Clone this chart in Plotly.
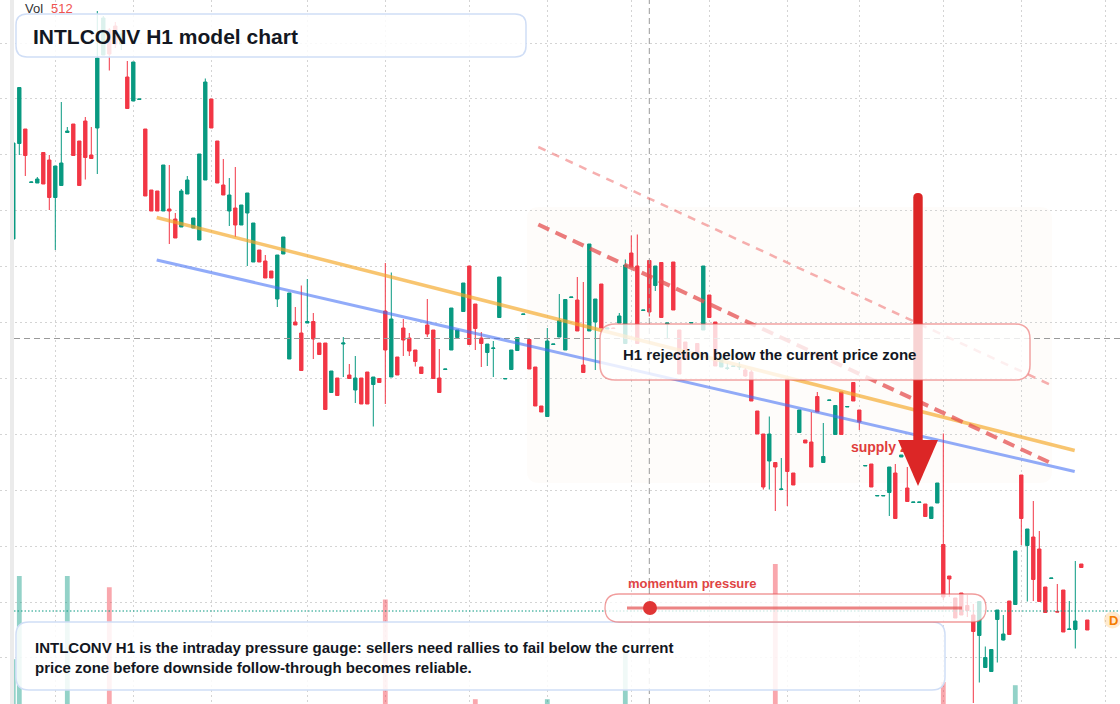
import plotly.graph_objects as go

W, H = 1120, 704

# ---------------- data ----------------
bar_index = list(range(180))

open_ = [
    101.66, 103.57, 103.86, 102.79, 102.78, 103.39, 103.24, 102.49, 102.73, 103.79,
    103.96, 103.62, 104.02, 103.34, 103.88, 105.34, 105.84, 105.92, 105.56, 104.90,
    104.42, 104.45, 103.86, 102.64, 102.62, 102.22, 102.26, 102.06, 101.90, 102.56,
    101.88, 101.64, 102.84, 104.46, 103.62, 102.74, 102.22, 102.28, 101.94, 102.18,
    101.20, 101.44, 101.22, 101.02, 100.46, 101.36, 99.26, 100.00, 99.78, 99.98,
    100.01, 99.58, 99.58, 98.59, 98.88, 99.56, 98.94, 98.64, 98.88, 99.00,
    98.75, 98.87, 100.22, 98.90, 99.30, 99.88, 99.68, 99.44, 99.10, 99.94,
    99.84, 98.88, 99.05, 99.44, 99.69, 100.21, 101.12, 100.36, 99.68, 99.39,
    99.47, 100.09, 98.86, 99.05, 99.43, 100.15, 99.65, 99.10, 98.32, 98.11,
    99.55, 99.70, 99.44, 100.49, 100.44, 99.14, 99.82, 100.00, 100.76, 99.86,
    99.88, 99.98, 99.57, 101.38, 101.12, 100.23, 101.23, 100.73, 101.19, 99.96,
    101.20, 99.84, 99.60, 99.98, 99.57, 99.84, 100.54, 100.00, 99.10, 99.07,
    99.11, 99.10, 99.04, 99.00, 98.22, 97.76, 97.22, 97.19, 96.65, 98.86,
    96.98, 97.79, 97.64, 97.60, 98.51, 97.19, 98.43, 97.75, 98.60, 98.30,
    98.79, 98.24, 97.12, 97.16, 96.52, 96.52, 96.59, 96.98, 97.30, 96.68,
    96.39, 96.39, 96.36, 96.07, 96.38, 95.55, 94.92, 94.48, 94.58, 94.33,
    94.14, 93.73, 93.09, 93.01, 94.05, 93.64, 94.42, 94.35, 96.94, 95.53,
    95.70, 95.46, 94.70, 94.87, 94.21, 94.64, 93.85, 93.85, 95.16, 94.04,
]
high = [
    103.58, 104.69, 103.86, 102.81, 102.90, 103.40, 103.34, 103.12, 104.40, 103.90,
    103.96, 103.62, 104.10, 103.90, 106.22, 106.12, 105.88, 106.00, 105.84, 105.22,
    105.20, 104.46, 103.86, 102.64, 102.62, 103.14, 103.14, 102.18, 102.66, 102.92,
    102.08, 103.36, 104.87, 104.46, 103.62, 103.26, 102.88, 103.10, 102.34, 102.58,
    101.98, 101.44, 101.34, 101.02, 101.34, 101.70, 100.58, 100.30, 100.73, 100.86,
    100.18, 99.58, 99.58, 99.02, 98.88, 99.70, 99.16, 99.32, 98.88, 99.00,
    98.90, 98.87, 101.18, 100.99, 99.30, 100.06, 99.78, 99.44, 99.10, 100.46,
    99.84, 99.46, 99.06, 100.28, 99.84, 100.78, 101.12, 100.36, 99.80, 99.56,
    99.62, 100.90, 98.87, 99.44, 99.69, 100.16, 99.65, 99.10, 98.32, 99.88,
    99.56, 100.56, 100.45, 100.50, 100.90, 100.80, 101.56, 100.46, 100.76, 99.88,
    99.89, 100.18, 101.25, 101.73, 101.75, 100.24, 101.23, 101.12, 101.19, 99.98,
    101.20, 99.84, 99.60, 99.99, 99.57, 101.12, 100.54, 100.00, 99.30, 99.18,
    99.12, 99.20, 99.08, 99.04, 98.22, 97.76, 98.11, 97.19, 97.28, 98.86,
    96.98, 98.24, 97.64, 98.20, 98.60, 97.98, 98.44, 98.33, 98.60, 98.31,
    98.79, 98.24, 97.13, 97.16, 96.53, 96.53, 97.10, 97.16, 97.34, 97.10,
    96.40, 96.40, 96.36, 96.30, 96.78, 97.77, 94.92, 94.48, 94.58, 94.54,
    94.36, 94.41, 93.51, 93.45, 94.24, 94.14, 94.42, 95.42, 96.94, 95.86,
    96.42, 95.82, 94.70, 94.88, 94.76, 94.64, 94.42, 95.22, 95.16, 94.04,
]
low = [
    101.66, 103.34, 102.92, 102.78, 102.78, 102.76, 102.24, 101.44, 102.73, 103.79,
    103.33, 102.73, 102.85, 103.27, 102.96, 105.34, 105.03, 105.48, 105.44, 104.27,
    104.42, 104.45, 102.52, 102.22, 102.22, 102.22, 101.56, 101.68, 101.90, 102.56,
    101.88, 101.64, 102.84, 103.88, 102.78, 102.54, 101.92, 101.70, 101.94, 101.12,
    101.20, 101.20, 100.88, 100.88, 100.30, 101.36, 99.26, 99.94, 99.03, 99.98,
    99.26, 99.35, 98.25, 98.59, 98.53, 98.90, 98.87, 98.38, 98.36, 98.36,
    97.91, 98.79, 98.36, 98.90, 98.94, 99.32, 99.32, 99.11, 98.97, 99.70,
    98.87, 98.59, 99.05, 99.44, 99.69, 100.21, 99.55, 99.44, 99.10, 99.12,
    98.90, 100.09, 98.86, 99.05, 99.43, 100.15, 99.06, 98.32, 98.20, 98.11,
    99.55, 99.70, 99.44, 100.49, 99.82, 98.99, 99.82, 99.04, 99.88, 99.86,
    99.86, 99.98, 99.57, 101.10, 99.57, 100.23, 100.11, 100.62, 100.09, 99.66,
    100.24, 98.96, 99.26, 99.98, 99.35, 99.84, 100.09, 99.12, 99.10, 99.04,
    99.11, 99.04, 98.90, 98.42, 97.76, 96.65, 96.65, 96.22, 96.65, 96.32,
    96.74, 97.79, 97.58, 97.10, 98.20, 97.19, 98.43, 97.75, 97.75, 98.30,
    98.42, 97.84, 97.12, 96.70, 96.52, 96.52, 96.12, 96.07, 97.30, 96.41,
    96.39, 96.39, 96.11, 96.07, 96.38, 94.44, 94.50, 94.08, 94.14, 94.10,
    92.38, 92.79, 93.09, 93.01, 93.19, 93.63, 93.75, 94.35, 95.54, 94.41,
    94.42, 94.41, 94.19, 94.87, 94.20, 93.80, 93.85, 93.47, 95.09, 93.84,
]
close = [
    103.58, 104.69, 103.33, 102.80, 102.86, 102.76, 102.49, 103.12, 103.18, 103.82,
    103.33, 102.73, 103.29, 103.27, 105.28, 106.08, 105.36, 105.56, 105.76, 104.27,
    105.20, 104.46, 102.52, 102.22, 102.22, 103.14, 102.22, 101.68, 102.62, 102.84,
    102.08, 103.36, 104.80, 103.88, 102.78, 102.54, 102.54, 101.94, 102.34, 102.58,
    101.98, 101.20, 100.88, 100.88, 101.34, 101.70, 100.58, 99.94, 99.03, 100.01,
    99.66, 99.35, 98.25, 99.02, 98.53, 99.58, 98.87, 98.88, 98.36, 98.36,
    98.90, 98.79, 99.44, 100.06, 98.94, 99.64, 99.42, 99.21, 98.97, 99.76,
    98.87, 98.59, 99.06, 100.28, 99.84, 100.78, 99.55, 99.87, 99.57, 99.56,
    99.48, 100.90, 98.87, 99.44, 99.69, 100.16, 99.06, 98.32, 98.20, 99.62,
    99.56, 100.03, 100.45, 100.50, 99.82, 98.99, 101.56, 100.46, 99.88, 99.88,
    99.87, 100.12, 101.14, 101.10, 99.57, 100.24, 100.20, 101.12, 100.09, 99.98,
    100.24, 98.96, 99.26, 99.99, 99.35, 101.12, 100.09, 99.12, 99.30, 99.08,
    99.12, 99.11, 98.92, 98.42, 97.76, 96.70, 97.76, 97.10, 96.66, 97.01,
    96.74, 98.24, 97.58, 97.10, 98.20, 97.31, 98.44, 98.33, 97.75, 98.31,
    98.42, 98.00, 97.13, 96.70, 96.53, 96.53, 97.10, 96.07, 97.34, 96.41,
    96.40, 96.40, 96.11, 96.30, 96.78, 94.50, 94.86, 94.08, 94.14, 94.23,
    93.81, 94.41, 93.29, 93.45, 94.24, 93.76, 93.75, 95.42, 96.07, 95.86,
    94.85, 94.41, 94.19, 94.88, 94.20, 93.80, 93.86, 94.02, 95.09, 93.84,
]
volume = [
    302, 510, 120, 85, 64, 140, 152, 176, 168, 510,
    132, 150, 118, 96, 178, 160, 482, 110, 92, 140,
    126, 58, 170, 104, 88, 142, 120, 98, 134, 112,
    76, 166, 172, 150, 128, 102, 114, 124, 90, 146,
    118, 84, 106, 72, 130, 96, 168, 80, 144, 100,
    122, 86, 158, 108, 94, 112, 70, 116, 128, 134,
    120, 62, 451, 164, 98, 106, 92, 84, 74, 110,
    136, 104, 56, 148, 80, 132, 156, 202, 112, 96,
    118, 150, 52, 114, 100, 66, 126, 146, 88, 202,
    60, 122, 154, 58, 138, 124, 174, 130, 140, 70,
    64, 90, 320, 142, 166, 68, 150, 108, 152, 74,
    148, 138, 104, 62, 94, 160, 120, 136, 96, 72,
    66, 70, 88, 130, 126, 170, 158, 540, 84, 180,
    110, 124, 78, 134, 116, 120, 60, 128, 140, 64,
    118, 106, 66, 132, 58, 56, 146, 158, 70, 124,
    62, 60, 110, 108, 142, 245, 98, 122, 116, 86,
    176, 160, 92, 118, 112, 84, 138, 237, 178, 150,
    164, 138, 112, 60, 82, 130, 76, 140, 58, 90,
]
session_bars = [7, 20, 33, 49, 62, 76, 89, 103, 116, 129, 141, 155, 168, 182]
last_price = 94.22
crosshair_bar = 106
crosshair_price = 99.67
trend_orange = [(23.9, 102.09), (176.9, 97.43)]
trend_blue = [(23.9, 101.24), (176.9, 97.01)]
channel_red = [(87.5, 101.95), (173.1, 97.17)]
channel_red_upper = [(87.5, 103.50), (173.1, 98.73)]
vol_label = "512"

GREEN = "#089981"
RED = "#F23645"
FONT = "Liberation Sans, Arial, sans-serif"

# --------------- helpers (pixel -> paper) ---------------
def PX(x):
    return x / W

def PY(y):
    return 1 - y / H

def rrect(x0, y0, x1, y1, r):
    pts = [
        f"M{PX(x0 + r)},{PY(y0)}",
        f"L{PX(x1 - r)},{PY(y0)}",
        f"Q{PX(x1)},{PY(y0)} {PX(x1)},{PY(y0 + r)}",
        f"L{PX(x1)},{PY(y1 - r)}",
        f"Q{PX(x1)},{PY(y1)} {PX(x1 - r)},{PY(y1)}",
        f"L{PX(x0 + r)},{PY(y1)}",
        f"Q{PX(x0)},{PY(y1)} {PX(x0)},{PY(y1 - r)}",
        f"L{PX(x0)},{PY(y0 + r)}",
        f"Q{PX(x0)},{PY(y0)} {PX(x0 + r)},{PY(y0)}",
        "Z",
    ]
    return " ".join(pts)

# --------------- traces ---------------
vol_colors = [
    "rgba(8,153,129,0.44)" if c >= o else "rgba(242,54,69,0.44)"
    for o, c in zip(open_, close)
]

fig = go.Figure()
fig.add_trace(go.Candlestick(
    x=bar_index, open=open_, high=high, low=low, close=close,
    increasing=dict(line=dict(color=GREEN, width=1), fillcolor=GREEN),
    decreasing=dict(line=dict(color=RED, width=1), fillcolor=RED),
    hoverinfo="skip", showlegend=False,
))
fig.add_trace(go.Scatter(
    x=[139.6], y=[97.48], mode="text", text=["<b>supply zone</b>"],
    textposition="middle right",
    textfont=dict(family=FONT, size=14, color="#e03c3c"),
    hoverinfo="skip", showlegend=False,
))
fig.add_trace(go.Bar(
    x=bar_index, y=volume, marker=dict(color=vol_colors, line=dict(width=0)),
    width=0.8, yaxis="y2", hoverinfo="skip", showlegend=False,
))

shapes = []
# faint zone
shapes.append(dict(type="path", xref="paper", yref="paper",
                   path=rrect(527, 207, 1052, 483, 12),
                   fillcolor="rgba(250,236,226,0.16)", line=dict(width=0), layer="below"))
# left strip
shapes.append(dict(type="rect", xref="paper", yref="paper", x0=PX(10), x1=PX(14), y0=0, y1=1,
                   fillcolor="#ebebeb", line=dict(width=0), layer="above"))
# price line & crosshair
shapes.append(dict(type="line", xref="paper", yref="y", x0=PX(14), x1=1, y0=last_price, y1=last_price,
                   line=dict(color=GREEN, width=1, dash="1.5px,2px"), layer="above"))
shapes.append(dict(type="line", xref="paper", yref="y", x0=PX(14), x1=1, y0=crosshair_price, y1=crosshair_price,
                   line=dict(color="#9a9a9a", width=1, dash="6px,4px"), layer="above"))
shapes.append(dict(type="line", xref="x", yref="paper", x0=crosshair_bar, x1=crosshair_bar, y0=0, y1=1,
                   line=dict(color="#9a9a9a", width=1, dash="6px,4px"), layer="above"))
# trend lines
for pts, col, wd, dash in [
    (trend_orange, "rgba(245,166,35,0.65)", 3.5, "solid"),
    (trend_blue, "rgba(66,110,245,0.58)", 3, "solid"),
    (channel_red_upper, "rgba(238,110,110,0.55)", 2.5, "8px,7px"),
    (channel_red, "rgba(228,80,80,0.75)", 4, "12px,7px"),
]:
    shapes.append(dict(type="line", xref="x", yref="y", x0=pts[0][0], y0=pts[0][1],
                       x1=pts[1][0], y1=pts[1][1], line=dict(color=col, width=wd, dash=dash),
                       layer="above"))
# big arrow
shapes.append(dict(type="path", xref="paper", yref="paper", path=rrect(913.3, 193, 922.7, 450, 4.6),
                   fillcolor="#dc2626", line=dict(width=0), layer="above"))
shapes.append(dict(type="path", xref="paper", yref="paper",
                   path=f"M{PX(898)},{PY(440)} L{PX(938)},{PY(440)} L{PX(918)},{PY(486)} Z",
                   fillcolor="#dc2626", line=dict(width=0), layer="above"))
# H1 box
shapes.append(dict(type="path", xref="paper", yref="paper", path=rrect(600, 324, 1030, 380, 15),
                   fillcolor="rgba(255,255,255,0.8)", line=dict(color="rgba(232,90,90,0.55)", width=1.5),
                   layer="above"))
# title box
shapes.append(dict(type="path", xref="paper", yref="paper", path=rrect(16, 14, 526, 57, 11),
                   fillcolor="rgba(255,255,255,0.86)", line=dict(color="#d0def6", width=1.5),
                   layer="above"))
# bottom box
shapes.append(dict(type="path", xref="paper", yref="paper", path=rrect(16, 622, 945, 690, 13),
                   fillcolor="rgba(255,255,255,0.86)", line=dict(color="#d0def6", width=1.5),
                   layer="above"))
# momentum pill
shapes.append(dict(type="path", xref="paper", yref="paper", path=rrect(605, 594, 986, 622, 14),
                   fillcolor="rgba(255,255,255,0.75)", line=dict(color="rgba(232,90,90,0.6)", width=1.3),
                   layer="above"))
shapes.append(dict(type="line", xref="paper", yref="paper", x0=PX(627), x1=PX(962), y0=PY(608), y1=PY(608),
                   line=dict(color="rgba(228,80,80,0.7)", width=3), layer="above"))
shapes.append(dict(type="circle", xref="paper", yref="paper", x0=PX(643), x1=PX(657), y0=PY(615), y1=PY(601),
                   fillcolor="#e03535", line=dict(width=0), layer="above"))
# D marker
shapes.append(dict(type="circle", xref="paper", yref="paper", x0=PX(1104), x1=PX(1121), y0=PY(628.5), y1=PY(611.5),
                   fillcolor="rgba(255,170,60,0.25)", line=dict(width=0), layer="above"))

annotations = [
    dict(x=PX(23), y=PY(8.5), text="Vol", font=dict(family=FONT, size=13, color="#333333")),
    dict(x=PX(49), y=PY(8.5), text=vol_label, font=dict(family=FONT, size=13, color="#ef5350")),
    dict(x=PX(31), y=PY(36), text="<b>INTLCONV H1 model chart</b>",
         font=dict(family=FONT, size=21, color="#131722")),
    dict(x=PX(33), y=PY(657), align="left",
         text="<b>INTLCONV H1 is the intraday pressure gauge: sellers need rallies to fail below the current<br>"
              "price zone before downside follow-through becomes reliable.</b>",
         font=dict(family=FONT, size=15, color="#131722")),
    dict(x=PX(621), y=PY(354), text="<b>H1 rejection below the current price zone</b>",
         font=dict(family=FONT, size=15, color="#131722")),
    dict(x=PX(626), y=PY(583), text="<b>momentum pressure</b>",
         font=dict(family=FONT, size=13, color="#e04444")),
    dict(x=PX(1107), y=PY(620), text="<b>D</b>", font=dict(family=FONT, size=13, color="#f57c00")),
]
for a in annotations:
    a.update(xref="paper", yref="paper", xanchor="left", yanchor="middle", showarrow=False)

fig.update_layout(
    width=W, height=H, margin=dict(l=0, r=0, t=0, b=0),
    paper_bgcolor="white", plot_bgcolor="white", showlegend=False,
    font=dict(family=FONT), boxgap=0.2,
    xaxis=dict(range=[-2.2167, 184.45], tickmode="array", tickvals=session_bars,
               showticklabels=False, showgrid=True, gridcolor="#d4d4d4", griddash="2px,3px",
               gridwidth=1, zeroline=False, showline=False, rangeslider=dict(visible=False)),
    yaxis=dict(range=[92.36, 106.44], tick0=99.99, dtick=1.118, showticklabels=False,
               showgrid=True, gridcolor="#d4d4d4", griddash="2px,3px", gridwidth=1,
               zeroline=False, showline=False),
    yaxis2=dict(overlaying="y", range=[190, 1950], visible=False, showgrid=False),
    shapes=shapes, annotations=annotations, hovermode=False,
)

fig.write_html("out.html")
